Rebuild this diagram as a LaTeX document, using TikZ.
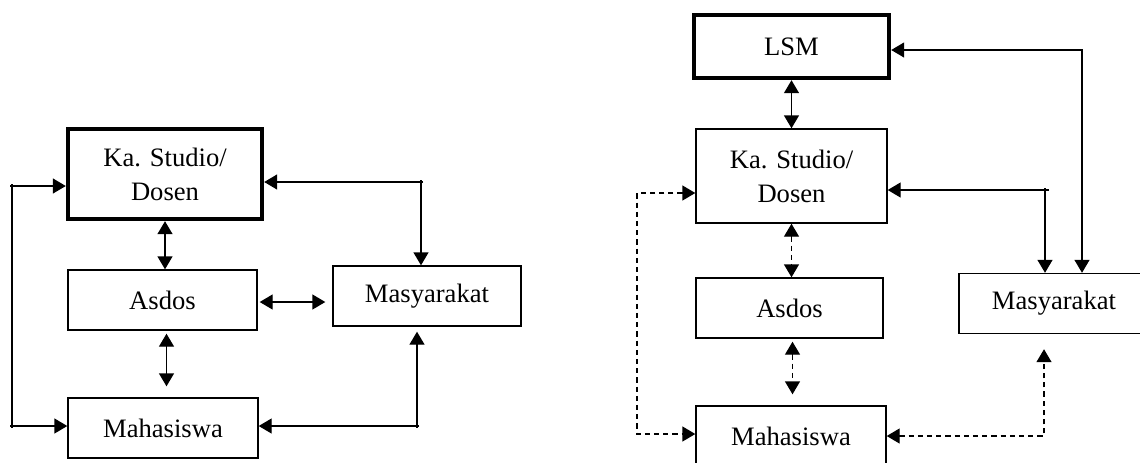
\documentclass[tikz,border=0pt]{standalone}
\usepackage{fontspec}
\setmainfont{Liberation Serif}
\usetikzlibrary{arrows.meta}
\tikzset{
  box/.style={draw, line width=0.7pt, inner sep=0pt, align=center, font=\fontsize{13.3}{17}\selectfont},
  thickbox/.style={box, line width=2.2pt},
  conn/.style={line width=0.7pt},
  dbl/.style={conn, {Triangle[length=6.5pt,width=7.5pt]}-{Triangle[length=6.5pt,width=7.5pt]}},
  tick/.style={conn},
  dsh/.style={dash pattern=on 2.6pt off 2pt}
}
\begin{document}
\begin{tikzpicture}[x=0.5pt,y=-0.5pt]
\useasboundingbox (0,0) rectangle (1140,462);
% ---- left diagram ----
\node[thickbox, minimum width=97pt, minimum height=45pt] (ka1) at (165,174) {Ka. Studio/\\Dosen};
\node[box, minimum width=94.5pt, minimum height=30pt] (as1) at (162.5,300) {Asdos};
\node[box, minimum width=94pt, minimum height=30pt] (ms1) at (427,296) {Masyarakat};
\node[box, minimum width=95pt, minimum height=30pt] (mh1) at (163,428) {Mahasiswa};
\coordinate (l1) at (12,186);
\coordinate (l2) at (12,426);
\coordinate (r1) at (421,182);
\coordinate (r2) at (417,426);
\draw[dbl] (ka1.south) -- (ka1.south |- as1.north);
\draw[dbl, shorten <=1pt, shorten >=3.5pt] ([yshift=-1pt]as1.east) -- ([yshift=-1pt]as1.east -| ms1.west);
\draw[dbl, shorten <=1.5pt, shorten >=5.5pt] ([xshift=2pt]as1.south) -- ([xshift=2pt]as1.south |- mh1.north);
\draw[dbl] (l1 -| ka1.west) -- (l1) -- (l2) -- (l2 -| mh1.west);
\draw[dbl] (r1 -| ka1.east) -- (r1) -- (r1 |- ms1.north);
\draw[dbl, shorten >=2.5pt] (r2 -| mh1.east) -- (r2) -- (r2 |- ms1.south);
\draw[tick] ([xshift=-1pt]l1) -- (l1) -- ([yshift=1pt]l1);
\draw[tick] ([xshift=-1pt]l2) -- (l2) -- ([yshift=-1pt]l2);
\draw[tick] ([xshift=1pt]r1) -- (r1) -- ([yshift=1pt]r1);
\draw[tick] ([xshift=1pt]r2) -- (r2) -- ([yshift=-1pt]r2);
% ---- right diagram ----
\node[thickbox, minimum width=97.5pt, minimum height=31.5pt] (lsm) at (791.5,46.5) {LSM};
\node[box, minimum width=95.5pt, minimum height=47pt] (ka2) at (791.5,176) {Ka. Studio/\\Dosen};
\node[box, minimum width=93.5pt, minimum height=30pt] (as2) at (789.5,308) {Asdos};
\node[box, minimum width=95pt, minimum height=30pt] (ms2) at (1054,303.5) {Masyarakat};
\node[box, minimum width=95pt, minimum height=30pt] (mh2) at (791,436) {Mahasiswa};
\coordinate (l3) at (637,193);
\coordinate (l4) at (637,434);
\coordinate (r3) at (1082,50);
\coordinate (r4) at (1045,190);
\coordinate (r5) at (1044,436);
\draw[dbl] (lsm.south) -- (lsm.south |- ka2.north);
\draw[dbl] (r3 -| lsm.east) -- (r3) -- (r3 |- ms2.north);
\draw[dbl] (r4 -| ka2.east) -- (r4) -- (r4 |- ms2.north);
\draw[tick] ([xshift=2pt]r4) -- (r4) -- ([yshift=1pt]r4);
\draw[dbl, dsh] (ka2.south) -- (ka2.south |- as2.north);
\draw[dbl, dsh, shorten <=1.5pt, shorten >=5.5pt] ([xshift=1.5pt]as2.south) -- ([xshift=1.5pt]as2.south |- mh2.north);
\draw[dbl, dsh] (l3 -| ka2.west) -- (l3) -- (l4) -- (l4 -| mh2.west);
\draw[dbl, dsh, shorten >=7.5pt] (r5 -| mh2.east) -- (r5) -- (r5 |- ms2.south);
\end{tikzpicture}
\end{document}
